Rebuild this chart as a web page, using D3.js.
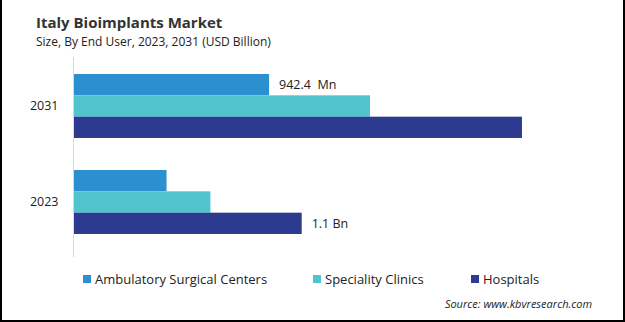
<!DOCTYPE html>
<html>
<head>
<meta charset="utf-8">
<script src="https://cdn.jsdelivr.net/npm/d3@7"></script>
<style>
  body { margin: 0; background: #fff; }
  svg { display: block; font-family: "Open Sans", sans-serif; }
</style>
</head>
<body>
<div id="chart"></div>
<script>
/* Italy bioimplants market - grouped horizontal bars by end user */

const years = ["2031", "2023"];
const series = ["Ambulatory Surgical Centers", "Speciality Clinics", "Hospitals"];
const colors = ["#2b8fd0", "#50c4cf", "#2c3a8f"];
// USD billion
const ambulatory = [0.9424, 0.447];
const speciality = [1.43, 0.659];
const hospitals = [2.164, 1.1];
const barLabels = [["942.4  Mn", null, null], [null, null, "1.1 Bn"]];

const width = 625,
      height = 322,
      margin = ({top: 58, right: 34, bottom: 72, left: 74});

const values = [ambulatory, speciality, hospitals];
const data = [];
years.forEach((yr, i) => {
    series.forEach((s, j) => {
        data.push({year: yr, series: s, value: values[j][i], label: barLabels[i][j]});
    });
});

let svg = d3.select("#chart")
    .append("svg")
    .attr("width", width)
    .attr("height", height);

let x = d3.scaleLinear()
    .domain([0, 2.5])
    .range([margin.left, margin.left + 517.5]);

let y0 = d3.scaleBand()
    .domain(years)
    .range([margin.top, height - margin.bottom])
    .paddingInner(1 / 3)
    .paddingOuter(1 / 6);

let y1 = d3.scaleBand()
    .domain(series)
    .range([0, y0.bandwidth()]);

let color = d3.scaleOrdinal()
    .domain(series)
    .range(colors);

// title
svg.append("text")
    .attr("x", 36)
    .attr("y", 28)
    .attr("font-size", 15)
    .attr("font-weight", "bold")
    .attr("fill", "#333")
    .text("Italy Bioimplants Market");

svg.append("text")
    .attr("x", 36)
    .attr("y", 46)
    .attr("font-size", 12)
    .attr("fill", "#222")
    .text("Size, By End User, 2023, 2031 (USD Billion)");

// bars
svg.selectAll(".bar")
    .data(data)
    .join("rect")
    .attr("class", "bar")
    .attr("x", x(0))
    .attr("y", d => y0(d.year) + y1(d.series))
    .attr("width", d => x(d.value) - x(0))
    .attr("height", y1.bandwidth())
    .attr("fill", d => color(d.series));

svg.selectAll(".val")
    .data(data.filter(d => d.label))
    .join("text")
    .attr("class", "val")
    .attr("x", d => x(d.value) + 10)
    .attr("y", d => y0(d.year) + y1(d.series) + y1.bandwidth() / 2)
    .attr("dy", "0.35em")
    .attr("font-size", 12.5)
    .attr("fill", "#222")
    .style("white-space", "pre")
    .text(d => d.label);

// y axis
let yAxis = svg.append("g")
    .attr("transform", `translate(${margin.left - 0.5},0)`)
    .call(d3.axisLeft(y0).tickSize(0).tickPadding(15));

yAxis.select(".domain")
    .attr("stroke", "#d9d9d9")
    .attr("d", `M0,${margin.top - 1}V${height - margin.bottom + 7}`);

yAxis.selectAll("text")
    .attr("font-size", 12.5)
    .attr("font-family", "Open Sans, sans-serif")
    .attr("fill", "#222");

// legend
const legendX = [83, 313, 471];
let legend = svg.selectAll(".legend")
    .data(series)
    .join("g")
    .attr("class", "legend")
    .attr("transform", (d, i) => `translate(${legendX[i]},275)`);

legend.append("rect")
    .attr("width", 8)
    .attr("height", 8)
    .attr("fill", d => color(d));

legend.append("text")
    .attr("x", 12)
    .attr("y", 4)
    .attr("dy", "0.35em")
    .attr("font-size", 13)
    .attr("fill", "#222")
    .text(d => d);

svg.append("text")
    .attr("x", 592)
    .attr("y", 308)
    .attr("text-anchor", "end")
    .attr("font-size", 11)
    .attr("font-style", "italic")
    .attr("fill", "#222")
    .text("Source: www.kbvresearch.com");

// frame: left, right and bottom edges
svg.append("path")
    .attr("d", `M1,0V${height - 1}H${width - 1}V0`)
    .attr("fill", "none")
    .attr("stroke", "#000")
    .attr("stroke-width", 2);
</script>
</body>
</html>
